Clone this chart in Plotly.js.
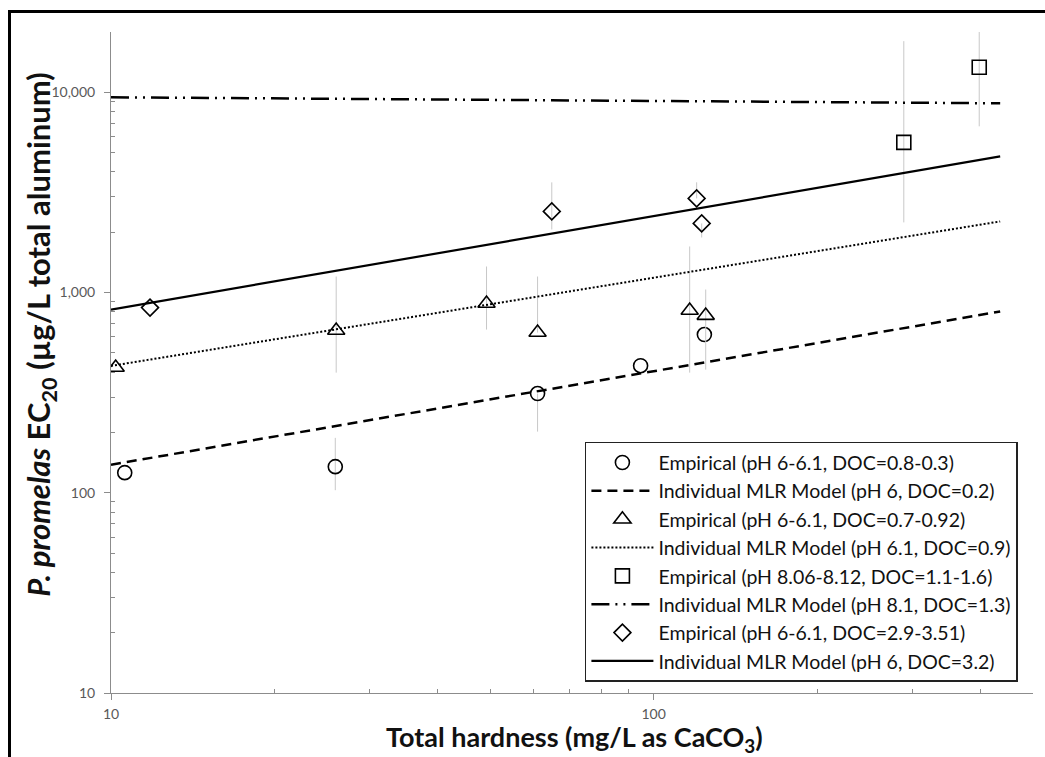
<!DOCTYPE html>
<html>
<head>
<meta charset="utf-8">
<script src="https://cdn.plot.ly/plotly-3.0.1.min.js"></script>
<style>
  html, body { margin: 0; padding: 0; background: #fff; overflow: hidden; }
  #frame { position: absolute; left: 8px; top: 10px; width: 1100px; height: 800px; border: 3px solid #000; box-sizing: border-box; pointer-events: none; }
  #chart { position: absolute; left: 0; top: 0; width: 1045px; height: 757px; }
</style>
</head>
<body>
<div id="chart"></div>
<div id="frame"></div>
<script>
// Empirical: pH 6-6.1, DOC=0.8-0.3 (circles)
const circX = [10.6, 25.9, 61.1, 94.6, 124];
const circY = [126, 135, 313, 431, 617];
const circErrPlus = [0, 53, 0, 0, 0];
const circErrMinus = [0, 32, 111, 0, 0];

// Empirical: pH 6-6.1, DOC=0.7-0.92 (triangles)
const triX = [10.2, 26, 49.2, 61.1, 116.5, 124.7];
const triY = [422, 646, 881, 631, 813, 767];
const triErrPlus = [0, 556, 468, 571, 885, 268];
const triErrMinus = [0, 248, 228, 0, 415, 355];

// Empirical: pH 8.06-8.12, DOC=1.1-1.6 (squares)
const sqX = [289, 398];
const sqY = [5623, 13335];
const sqErrPlus = [12377, 6845];
const sqErrMinus = [3384, 6574];

// Empirical: pH 6-6.1, DOC=2.9-3.51 (diamonds)
const diaX = [11.8, 64.9, 120, 122.6];
const diaY = [841, 2541, 2951, 2213];
const diaErrPlus = [0, 1007, 600, 0];
const diaErrMinus = [0, 476, 0, 330];

// Individual MLR model lines (endpoints)
const modelX = [10, 435];
const model_pH6_DOC02 = [138, 804];
const model_pH61_DOC09 = [430, 2265];
const model_pH81_DOC13 = [9441, 8810];
const model_pH6_DOC32 = [822, 4786];

const names = [
  'Empirical (pH 6-6.1, DOC=0.8-0.3)',
  'Individual MLR Model (pH 6, DOC=0.2)',
  'Empirical (pH 6-6.1, DOC=0.7-0.92)',
  'Individual MLR Model (pH 6.1, DOC=0.9)',
  'Empirical (pH 8.06-8.12, DOC=1.1-1.6)',
  'Individual MLR Model (pH 8.1, DOC=1.3)',
  'Empirical (pH 6-6.1, DOC=2.9-3.51)',
  'Individual MLR Model (pH 6, DOC=3.2)'
];

const errStyle = (p, m) => ({type: 'data', symmetric: false, array: p, arrayminus: m, color: '#c8c8c8', thickness: 1, width: 0});
const mk = (sym, size) => ({symbol: sym, size: size, color: '#000', line: {color: '#000', width: 1.6}});

const traces = [
  {x: circX, y: circY, mode: 'markers', name: names[0], legendgroup: 'g0', marker: mk('circle-open', 14), error_y: errStyle(circErrPlus, circErrMinus)},
  {x: modelX, y: model_pH6_DOC02, mode: 'lines', name: names[1], legendgroup: 'g1', line: {color: '#000', width: 2.5, dash: '10px,6px'}},
  {x: triX, y: triY, mode: 'markers', name: names[2], legendgroup: 'g2', marker: mk('triangle-up-open', 15), error_y: errStyle(triErrPlus, triErrMinus)},
  {x: modelX, y: model_pH61_DOC09, mode: 'lines', name: names[3], legendgroup: 'g3', line: {color: '#000', width: 2, dash: '2px,2px'}},
  {x: sqX, y: sqY, mode: 'markers', name: names[4], legendgroup: 'g4', marker: mk('square-open', 14), error_y: errStyle(sqErrPlus, sqErrMinus)},
  {x: modelX, y: model_pH81_DOC13, mode: 'lines', name: names[5], legendgroup: 'g5', line: {color: '#000', width: 2.5, dash: '18px,6px,2px,6px,2px,6px'}},
  {x: diaX, y: diaY, mode: 'markers', name: names[6], legendgroup: 'g6', marker: mk('diamond-open', 13), error_y: errStyle(diaErrPlus, diaErrMinus)},
  {x: modelX, y: model_pH6_DOC32, mode: 'lines', name: names[7], legendgroup: 'g7', line: {color: '#000', width: 2.2}}
];

const tickFont = {family: 'Lato, "Open Sans", sans-serif', size: 14, color: '#595959'};

const layout = {
  width: 1045, height: 757,
  margin: {l: 111, r: 12, t: 32, b: 64},
  paper_bgcolor: '#fff', plot_bgcolor: '#fff',
  showlegend: true,
  xaxis: {
    type: 'log', range: [1, Math.log10(500)],
    tickvals: [10, 100], ticktext: ['10', '100'],
    showgrid: false, zeroline: false, automargin: false,
    showline: true, linecolor: '#8c8c8c', linewidth: 1,
    ticks: 'outside', ticklen: 6, tickcolor: '#8c8c8c',
    minor: {tickvals: [20, 30, 40, 50, 60, 70, 80, 90, 200, 300, 400], ticks: 'inside', ticklen: 4, tickcolor: '#8c8c8c', showgrid: false},
    tickfont: tickFont, ticklabelstandoff: 2
  },
  yaxis: {
    type: 'log', range: [1, Math.log10(20000)],
    tickvals: [10, 100, 1000, 10000], ticktext: ['10', '100', '1,000', '10,000'],
    showgrid: false, zeroline: false, automargin: false,
    showline: true, linecolor: '#8c8c8c', linewidth: 1,
    ticks: 'outside', ticklen: 6, tickcolor: '#8c8c8c',
    minor: {tickvals: [20, 30, 40, 50, 60, 70, 80, 90, 200, 300, 400, 500, 600, 700, 800, 900, 2000, 3000, 4000, 5000, 6000, 7000, 8000, 9000], ticks: 'inside', ticklen: 4, tickcolor: '#8c8c8c', showgrid: false},
    tickfont: tickFont, ticklabelstandoff: 6
  },
  legend: {
    x: 0.514, y: 0.38, xanchor: 'left', yanchor: 'top',
    bgcolor: '#fff', bordercolor: '#222', borderwidth: 1.5,
    font: {family: 'Lato, "Open Sans", sans-serif', size: 19.5, color: '#111'},
    itemwidth: 62, tracegroupgap: 0
  },
  annotations: [
    {xref: 'paper', yref: 'paper', x: 0.503, y: -0.0695, xanchor: 'center', yanchor: 'middle', showarrow: false,
     text: '<b>Total hardness (mg/L as CaCO<sub>3</sub>)</b>', font: {family: 'Lato, "Open Sans", sans-serif', size: 27, color: '#111'}},
    {xref: 'paper', yref: 'paper', x: -0.076, y: 0.542, xanchor: 'center', yanchor: 'middle', showarrow: false, textangle: -90,
     text: '<b><i>P. promelas</i> EC<sub>20</sub> (µg/L total aluminum)</b>', font: {family: 'Lato, "Open Sans", sans-serif', size: 31, color: '#111'}}
  ]
};

Plotly.newPlot('chart', traces, layout, {displayModeBar: false, staticPlot: true});
</script>
</body>
</html>
